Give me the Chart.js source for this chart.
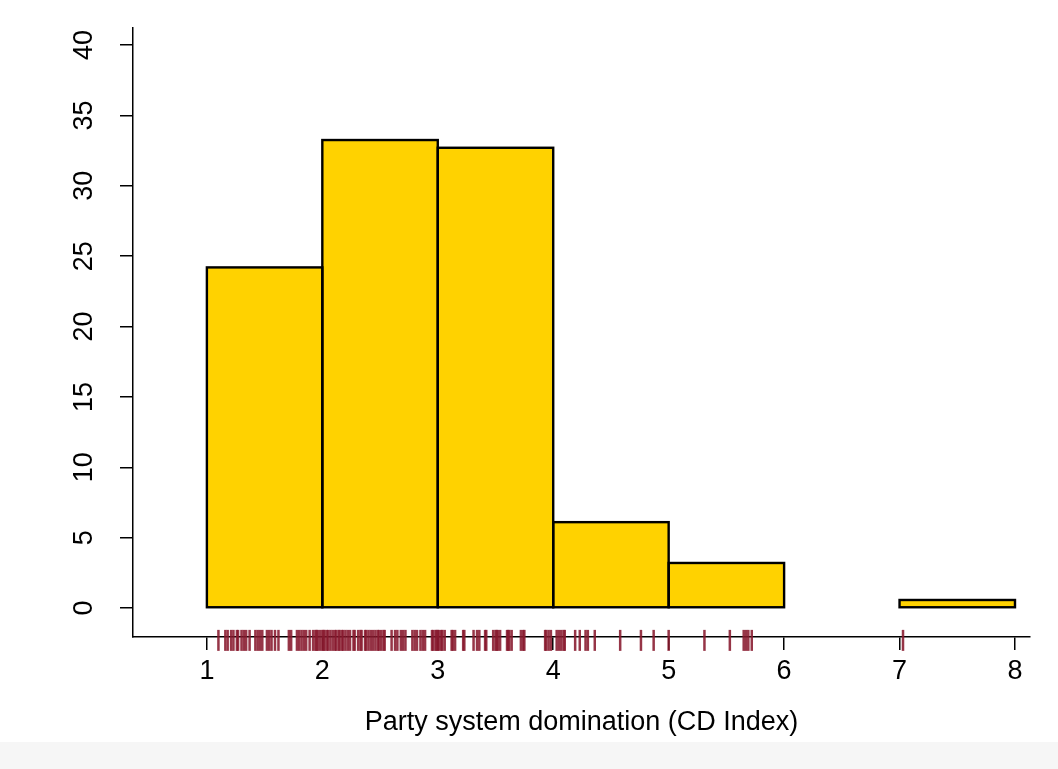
<!DOCTYPE html>
<html>
<head>
<meta charset="utf-8">
<script src="https://cdn.jsdelivr.net/npm/chart.js"></script>
<style>
body { margin: 0; background: #f6f6f6; }
canvas { display: block; background: #fff; }
</style>
</head>
<body>
<canvas id="histChart" width="1058" height="742"></canvas>
<script>
// histogram bins (percent)
var binStarts = [1, 2, 3, 4, 5, 6, 7];
var binPercents = [24.2, 33.25, 32.7, 6.1, 3.2, 0, 0.57];

var xTicks = [1, 2, 3, 4, 5, 6, 7, 8];
var yTicks = [0, 5, 10, 15, 20, 25, 30, 35, 40];

// rug of individual observations under the axis
var rugValues = [
    1.10, 1.16, 1.18, 1.21, 1.23, 1.26, 1.27, 1.30, 1.32, 1.34, 1.37, 1.42, 1.44, 1.46, 1.48,
    1.52, 1.54, 1.56, 1.59, 1.62, 1.71, 1.73, 1.78, 1.80, 1.82, 1.84, 1.86, 1.89, 1.92, 1.94,
    1.95, 1.96, 1.98, 2.00, 2.01, 2.02, 2.04, 2.05, 2.07, 2.09, 2.11, 2.12, 2.14, 2.15, 2.17,
    2.18, 2.20, 2.22, 2.24, 2.27, 2.28, 2.31, 2.33, 2.34, 2.37, 2.38, 2.40, 2.42, 2.44, 2.46,
    2.48, 2.49, 2.51, 2.53, 2.54, 2.60, 2.63, 2.65, 2.68, 2.70, 2.72, 2.78, 2.80, 2.82, 2.85,
    2.87, 2.89, 2.95, 2.96, 2.98, 2.99, 3.00, 3.01, 3.03, 3.04, 3.06, 3.12, 3.13, 3.15, 3.22,
    3.23, 3.31, 3.34, 3.36, 3.41, 3.42, 3.48, 3.50, 3.51, 3.52, 3.54, 3.60, 3.61, 3.62, 3.64,
    3.72, 3.74, 3.75, 3.93, 3.94, 3.96, 3.98, 4.03, 4.05, 4.07, 4.09, 4.10, 4.19, 4.23, 4.28,
    4.30, 4.36, 4.58, 4.76, 4.87, 5.00, 5.31, 5.53, 5.65, 5.67, 5.69, 5.72, 7.03
];
var rugLevel = -2.3;

var xTitle = 'Party system domination (CD Index)';
var fontFamily = '"Liberation Sans", Arial, Helvetica, sans-serif';

window.addEventListener("DOMContentLoaded", function() {
    var elem = document.getElementById("histChart");

    var barData = binStarts.map(function(s, i) {
        return { x: s + 0.5, y: binPercents[i] };
    });
    var rugData = rugValues.map(function(v) {
        return { x: v, y: rugLevel };
    });

    // vertical tick labels on the left, like the original
    var yLabelPlugin = {
        id: 'yLabels',
        afterDraw: function(chart) {
            var ctx = chart.ctx;
            var yScale = chart.scales.y;
            ctx.save();
            ctx.font = '27px ' + fontFamily;
            ctx.fillStyle = '#000';
            ctx.textAlign = 'center';
            ctx.textBaseline = 'alphabetic';
            for (var i = 0; i < yTicks.length; i++) {
                var py = yScale.getPixelForValue(yTicks[i]);
                ctx.save();
                ctx.translate(yScale.right - 41, py);
                ctx.rotate(-Math.PI / 2);
                ctx.fillText(String(yTicks[i]), 0, 0);
                ctx.restore();
            }
            ctx.restore();
        }
    };

    // outline each bar centred on its edges (shared edges stay one line thick)
    var outlinePlugin = {
        id: 'barOutline',
        afterDatasetsDraw: function(chart) {
            var ctx = chart.ctx;
            var meta = chart.getDatasetMeta(1);
            ctx.save();
            ctx.strokeStyle = '#000';
            ctx.lineWidth = 2.4;
            ctx.lineJoin = 'miter';
            meta.data.forEach(function(bar, i) {
                if (!binPercents[i]) return;
                var p = bar.getProps(['x', 'y', 'base', 'width'], true);
                ctx.strokeRect(p.x - p.width / 2, p.y, p.width, p.base - p.y);
            });
            ctx.restore();
        }
    };

    new Chart(elem, {
        type: 'bar',
        data: {
            datasets: [{
                type: 'scatter',
                data: rugData,
                pointStyle: 'line',
                rotation: 90,
                radius: 10.5,
                borderWidth: 2.5,
                borderColor: 'rgba(135, 25, 45, 0.88)',
                clip: false
            }, {
                data: barData,
                backgroundColor: function(c) {
                    return binPercents[c.dataIndex] ? '#ffd200' : 'rgba(0,0,0,0)';
                },
                borderWidth: 0,
                inflateAmount: 0,
                barPercentage: 1,
                categoryPercentage: 1
            }]
        },
        options: {
            responsive: false,
            animation: false,
            devicePixelRatio: 1,
            events: [],
            layout: { padding: { top: 28, right: 28, left: 0, bottom: 0 } },
            plugins: {
                legend: { display: false },
                tooltip: { enabled: false }
            },
            scales: {
                x: {
                    type: 'linear',
                    min: 0.36,
                    max: 8.13,
                    offset: false,
                    z: 1,
                    afterBuildTicks: function(axis) {
                        axis.ticks = xTicks.map(function(v) { return { value: v }; });
                    },
                    afterFit: function(scale) { scale.height = 105; },
                    grid: { offset: false, drawOnChartArea: false, color: '#000', lineWidth: 1.5, tickLength: 13 },
                    border: { display: true, color: '#000', width: 1.5 },
                    ticks: {
                        autoSkip: false,
                        maxRotation: 0,
                        padding: 5,
                        color: '#000',
                        font: { family: fontFamily, size: 27 }
                    },
                    title: {
                        display: true,
                        text: xTitle,
                        color: '#000',
                        font: { family: fontFamily, size: 27 },
                        padding: { top: 0, bottom: 3 }
                    }
                },
                y: {
                    type: 'linear',
                    min: -2.06,
                    max: 41.21,
                    z: 1,
                    afterBuildTicks: function(axis) {
                        axis.ticks = yTicks.map(function(v) { return { value: v }; });
                    },
                    afterFit: function(scale) { scale.width = 133; },
                    grid: { drawOnChartArea: false, color: '#000', lineWidth: 1.5, tickLength: 13 },
                    border: { display: true, color: '#000', width: 1.5 },
                    ticks: { display: false, autoSkip: false }
                }
            }
        },
        plugins: [yLabelPlugin, outlinePlugin]
    });
});
</script>
</body>
</html>
